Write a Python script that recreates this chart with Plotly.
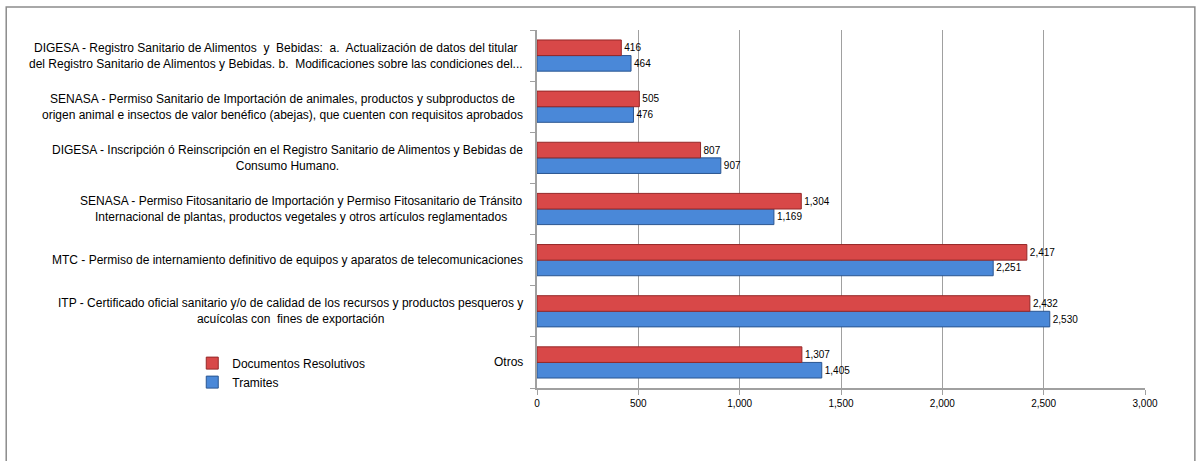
import plotly.graph_objects as go

categories = [
    "Otros",
    "ITP - Certificado oficial sanitario y/o de calidad de los recursos y productos pesqueros y<br>acuícolas con  fines de exportación",
    "MTC - Permiso de internamiento definitivo de equipos y aparatos de telecomunicaciones",
    "SENASA - Permiso Fitosanitario de Importación y Permiso Fitosanitario de Tránsito<br>Internacional de plantas, productos vegetales y otros artículos reglamentados",
    "DIGESA - Inscripción ó Reinscripción en el Registro Sanitario de Alimentos y Bebidas de<br>Consumo Humano.",
    "SENASA - Permiso Sanitario de Importación de animales, productos y subproductos de<br>origen animal e insectos de valor benéfico (abejas), que cuenten con requisitos aprobados",
    "DIGESA - Registro Sanitario de Alimentos  y  Bebidas:  a.  Actualización de datos del titular<br>del Registro Sanitario de Alimentos y Bebidas. b.  Modificaciones sobre las condiciones del...",
]
tramites = [1405, 2530, 2251, 1169, 907, 476, 464]
documentos = [1307, 2432, 2417, 1304, 807, 505, 416]
x_ticks = [0, 500, 1000, 1500, 2000, 2500, 3000]

FONT = "Liberation Sans, Arial, sans-serif"

fig = go.Figure()
fig.add_trace(go.Bar(
    y=categories, x=tramites, orientation="h", name="Tramites",
    marker=dict(color="#4a88d8", line=dict(color="#2a5590", width=1)),
    text=[f"{v:,}" for v in tramites], textposition="outside",
    textfont=dict(size=10, color="#000000", family=FONT), cliponaxis=False,
))
fig.add_trace(go.Bar(
    y=categories, x=documentos, orientation="h", name="Documentos Resolutivos",
    marker=dict(color="#d84848", line=dict(color="#952828", width=1)),
    text=[f"{v:,}" for v in documentos], textposition="outside",
    textfont=dict(size=10, color="#000000", family=FONT), cliponaxis=False,
))

for c in categories:
    fig.add_annotation(
        x=0, xref="paper", y=c, yref="y", text=c, showarrow=False,
        xanchor="right", xshift=-12, align="center",
        font=dict(size=12, color="#000000", family=FONT),
    )

fig.update_layout(
    width=1196, height=461,
    margin=dict(l=537, r=51, t=30, b=73),
    paper_bgcolor="white", plot_bgcolor="white",
    barmode="group", bargap=0.39, bargroupgap=0,
    font=dict(family=FONT, color="#000000"),
    legend=dict(
        x=-0.567, y=0.11, xanchor="left", yanchor="top",
        traceorder="reversed", font=dict(size=12, family=FONT),
        bgcolor="rgba(0,0,0,0)", tracegroupgap=4,
    ),
    xaxis=dict(
        range=[0, 3000], tickvals=x_ticks, tickformat=",",
        showgrid=True, gridcolor="#a0a0a0", gridwidth=1,
        showline=True, linecolor="#a0a0a0", linewidth=1.5,
        ticks="outside", ticklen=5, tickcolor="#a0a0a0",
        tickfont=dict(size=10, family=FONT), zeroline=False,
    ),
    yaxis=dict(
        showticklabels=False, showline=True, linecolor="#a0a0a0", linewidth=1.5,
        ticks="outside", ticklen=5, tickcolor="#a0a0a0", tickson="boundaries",
        showgrid=False,
    ),
    shapes=[dict(
        type="rect", xref="paper", yref="paper",
        x0=-0.873, x1=1.082, y0=-0.25, y1=1.064,
        line=dict(color="#8c8c8c", width=1.5), fillcolor="rgba(0,0,0,0)",
        layer="below",
    )],
)

fig.write_html(
    "out.html",
    config={"displayModeBar": False},
    post_script="document.body.style.margin='0px';document.body.style.overflow='hidden';",
)
